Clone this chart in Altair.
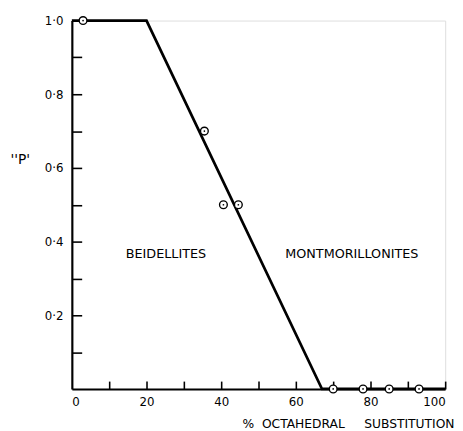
import altair as alt
import pandas as pd

# Fitted curve (piecewise linear)
line_x = [0, 20, 67, 100]
line_p = [1.0, 1.0, 0.0, 0.0]

# Observed points
pt_x = [3, 35.5, 40.6, 44.6, 70, 78, 85, 93]
pt_p = [1.0, 0.70, 0.50, 0.50, 0.0, 0.0, 0.0, 0.0]

# Region annotations
ann_text = ["BEIDELLITES", "MONTMORILLONITES"]
ann_x = [25.2, 75.0]
ann_p = [0.365, 0.365]

x_labels = [0, 20, 40, 60, 80, 100]
x_ticks = [10, 20, 30, 40, 50, 60, 70, 80, 90, 100]
y_labels = [0.2, 0.4, 0.6, 0.8, 1.0]
y_ticks = [0.1, 0.2, 0.3, 0.4, 0.5, 0.6, 0.7, 0.8, 0.9, 1.0]

W, H = 380, 375
FONT = "DejaVu Sans"

line_df = pd.DataFrame({"x": line_x, "p": line_p})
pt_df = pd.DataFrame({"x": pt_x, "p": pt_p})
ann_df = pd.DataFrame({"t": ann_text, "x": ann_x, "p": ann_p})

xs = alt.Scale(domain=[0, 100], nice=False, zero=False)
ys = alt.Scale(domain=[0, 1], nice=False, zero=False)

dot_expr = "replace(format(datum.value, '.1f'), '.', '·')"

main_x = alt.X("x:Q", scale=xs, axis=alt.Axis(
    values=x_labels, ticks=False, grid=False, domainColor="black", domainWidth=2.2,
    labelFont=FONT, labelFontSize=12, labelColor="black", labelPadding=8,
    title="%\u00a0\u00a0OCTAHEDRAL\u00a0\u00a0\u00a0\u00a0\u00a0SUBSTITUTION",
    titleFont=FONT, titleFontSize=12.5, titleFontWeight="normal", titleColor="black",
    titleAlign="right", titleAnchor="end", titleX=389, titleY=35, titleBaseline="middle"))
main_y = alt.Y("p:Q", scale=ys, axis=alt.Axis(
    values=y_labels, ticks=False, grid=False, domainColor="black", domainWidth=2.2,
    labelFont=FONT, labelFontSize=12, labelColor="black", labelPadding=9,
    labelExpr=dot_expr,
    title="''P'", titleFont=FONT, titleFontSize=14, titleFontWeight="normal",
    titleColor="black", titleAngle=0, titleX=-53, titleY=141,
    titleAlign="center", titleBaseline="middle"))

line = alt.Chart(line_df).mark_line(color="black", strokeWidth=2.8).encode(
    x=main_x, y=main_y)

tick_x = alt.X("x:Q", scale=xs, axis=alt.Axis(
    orient="top", offset=-H, values=x_ticks, labels=False, domain=False,
    ticks=True, tickSize=8, tickWidth=1.6, tickColor="black", grid=False, title=None))
tick_y = alt.Y("p:Q", scale=ys, axis=alt.Axis(
    orient="right", offset=-W, values=y_ticks, labels=False, domain=False,
    ticks=True, tickSize=10, tickWidth=1.6, tickColor="black", grid=False, title=None))

circles = alt.Chart(pt_df).mark_point(
    shape="circle", filled=False, fill="white", fillOpacity=1, color="black",
    strokeWidth=1.4, size=62, opacity=1).encode(x=tick_x, y=tick_y)
dots = alt.Chart(pt_df).mark_point(
    shape="circle", filled=True, color="black", size=3, opacity=1).encode(
    x=alt.X("x:Q", scale=xs, axis=None), y=alt.Y("p:Q", scale=ys, axis=None))

ann = alt.Chart(ann_df).mark_text(
    font=FONT, fontSize=13, color="black", align="center", baseline="middle").encode(
    x=alt.X("x:Q", scale=xs, axis=None), y=alt.Y("p:Q", scale=ys, axis=None), text="t:N")

chart = alt.layer(line, circles, dots, ann).resolve_axis(
    x="independent", y="independent").properties(
    width=W, height=H,
    autosize=alt.AutoSizeParams(type="none"),
    padding={"left": 65, "top": 9, "right": 10, "bottom": 39},
).configure_view(stroke=None).configure(background="white")

chart.save("out.html", embed_options={"renderer": "svg", "actions": False})
